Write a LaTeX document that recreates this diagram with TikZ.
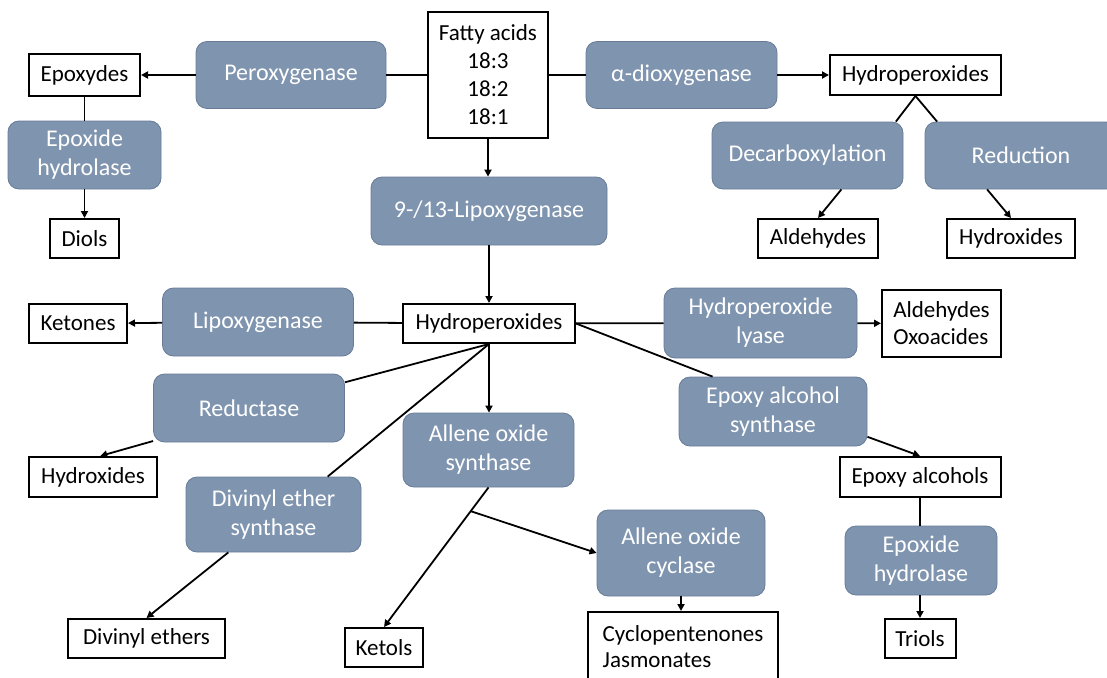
\documentclass[tikz,border=0pt]{standalone}
\usepackage{fontspec}
\setmainfont{Carlito}
\usetikzlibrary{arrows.meta,calc}
\definecolor{enzfill}{RGB}{127,148,175}
\definecolor{enzline}{RGB}{104,124,152}
\tikzset{
  enz/.style={draw=enzline, fill=enzfill, line width=0.8pt, rounded corners=11pt,
    text=white, align=center, inner sep=0pt, font=\fontsize{24}{29}\selectfont},
  prod/.style={draw=black, fill=white, line width=2pt, align=center, inner sep=0pt,
    font=\fontsize{23}{27}\selectfont},
  con/.style={line width=1.8pt},
  arr/.style={con, -{Triangle[length=7pt,width=7pt]}},
}
\begin{document}
\begin{tikzpicture}[x=1pt,y=-1pt]
        \useasboundingbox (0,0) rectangle (1107,677);
        \node[prod, minimum width=120pt, minimum height=125pt, font=\fontsize{23}{28}\selectfont] (fatty) at (488,75) {Fatty acids\\18:3\\18:2\\18:1};
        \node[enz, minimum width=190pt, minimum height=67pt] (perox) at (291,75) {Peroxygenase};
        \node[prod, minimum width=111pt, minimum height=41pt] (epox) at (84.5,75) {Epoxydes};
        \node[enz, minimum width=153pt, minimum height=68pt] (ehydl) at (84.5,155) {Epoxide\\hydrolase};
        \node[prod, minimum width=69pt, minimum height=39pt] (diols) at (84.5,238.5) {Diols};
        \node[enz, minimum width=191pt, minimum height=67pt] (adiox) at (681.5,75) {α-dioxygenase};
        \node[prod, minimum width=171pt, minimum height=40pt] (hptop) at (915.5,75) {Hydroperoxides};
        \node[enz, minimum width=191pt, minimum height=67pt] (decarb) at (807.5,155.5) {Decarboxylation};
        \node[enz, minimum width=192pt, minimum height=67pt] (reduc) at (1021,155.5) {Reduction};
        \node[prod, minimum width=120pt, minimum height=39pt] (ald) at (818,238.5) {Aldehydes};
        \node[prod, minimum width=128pt, minimum height=39pt] (hydr) at (1011,238.5) {Hydroxides};
        \node[enz, minimum width=236pt, minimum height=68pt] (lox) at (489,211) {9-/13-Lipoxygenase};
        \node[prod, minimum width=172pt, minimum height=39pt] (hpmid) at (489,323.5) {Hydroperoxides};
        \node[enz, minimum width=191pt, minimum height=68pt] (lipox) at (258,322) {Lipoxygenase};
        \node[prod, minimum width=98pt, minimum height=39pt] (keto) at (78,323.5) {Ketones};
        \node[enz, minimum width=193pt, minimum height=70pt] (hpl) at (760.5,323) {Hydroperoxide\\lyase};
        \node[prod, minimum width=119pt, minimum height=67pt, align=left] (aldox) at (941.5,323.5) {Aldehydes\\Oxoacides};
        \node[enz, minimum width=191pt, minimum height=68pt] (reduct) at (249,408) {Reductase};
        \node[prod, minimum width=128pt, minimum height=40pt] (hydl) at (93,477) {Hydroxides};
        \node[enz, minimum width=171pt, minimum height=74pt] (aos) at (488.5,450) {Allene oxide\\synthase};
        \node[enz, minimum width=188pt, minimum height=69pt] (eas) at (773,411.5) {Epoxy alcohol\\synthase};
        \node[prod, minimum width=161pt, minimum height=40pt] (epalc) at (920,477) {Epoxy alcohols};
        \node[enz, minimum width=175pt, minimum height=75pt] (dves) at (273.5,514.5) {Divinyl ether\\synthase};
        \node[enz, minimum width=168pt, minimum height=86pt] (aoc) at (681,553) {Allene oxide\\cyclase};
        \node[enz, minimum width=152pt, minimum height=69pt] (ehydr) at (921,560.5) {Epoxide\\hydrolase};
        \node[prod, minimum width=157pt, minimum height=39pt] (dve) at (146.5,638.5) {Divinyl ethers};
        \node[prod, minimum width=78pt, minimum height=39pt] (ketols) at (384,647.5) {Ketols};
        \node[prod, minimum width=190pt, minimum height=70pt, align=left, font=\fontsize{23}{26}\selectfont] (cyc) at (683,647) {Cyclopentenones\\Jasmonates};
        \node[prod, minimum width=71pt, minimum height=39pt] (triols) at (920,638.5) {Triols};
        \draw[con] (fatty) -- (perox);
        \draw[arr] (perox) -- (epox);
        \draw[con] (epox) -- (epox |- ehydl.north);
        \draw[arr] (epox |- ehydl.south) -- (epox |- diols.north);
        \draw[con] (fatty) -- (adiox);
        \draw[arr] (adiox) -- (hptop);
        \draw[con] (hptop.south) -- (decarb.21);
        \draw[con] (hptop.south) -- (reduc.158);
        \draw[arr] (decarb.-45) -- (ald.north);
        \draw[arr] (reduc.225) -- (hydr.north);
        \draw[arr] (fatty) -- (fatty |- lox.north);
        \draw[arr] (hpmid.north |- lox.south) -- (hpmid.north);
        \draw[con] (hpmid) -- (lipox);
        \draw[arr] (lipox) -- (keto);
        \draw[con] (hpmid) -- (hpl);
        \draw[arr] (hpl) -- (aldox);
        \draw[con] (hpmid.south) -- (reduct.15);
        \draw[arr] (reduct.199) -- (hydl.71);
        \draw[con] (hpmid.south) -- (dves.35);
        \draw[arr] (dves.220) -- (dve.north);
        \draw[arr] (hpmid.south) -- (hpmid.south |- aos.north);
        \draw[arr] (aos.south) -- (ketols.north);
        \draw[arr] ($(aos.south)!0.17!(ketols.north)$) -- (aoc.west);
        \draw[arr] (aoc.south) -- (aoc.south |- cyc.north);
        \draw[con] (hpmid.east) -- (eas.150);
        \draw[arr] (eas.-15) -- (epalc.north);
        \draw[con] (epalc) -- (epalc |- ehydr.north);
        \draw[arr] (epalc |- ehydr.south) -- (epalc |- triols.north);
    \end{tikzpicture}
\end{document}
